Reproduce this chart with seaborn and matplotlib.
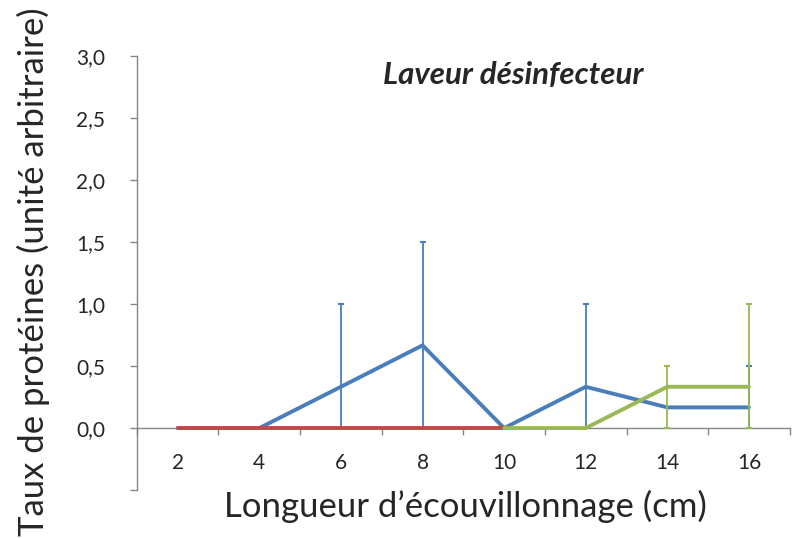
import matplotlib
matplotlib.use('Agg')
from matplotlib import pyplot as plt
from matplotlib.ticker import FixedLocator, FuncFormatter
import numpy as np
import seaborn as sns

sns.set_style('white')
plt.rcParams['font.family'] = ['Lato', 'DejaVu Sans']

# Swab length categories (cm)
lengths = ['2', '4', '6', '8', '10', '12', '14', '16']

# Series values (arbitrary units); low/high are the error-bar ends
blue_vals = [0, 0, 0.333, 0.667, 0, 0.333, 0.167, 0.167]
blue_low = [0, 0, 0, 0, 0, 0, 0, 0]
blue_high = [0, 0, 1.0, 1.5, 0, 1.0, 0, 0.5]

red_vals = [0, 0, 0, 0, 0]  # categories 2..10

green_vals = [0, 0, 0.333, 0.333]  # categories 10..16
green_low = [0, 0, 0, 0]
green_high = [0, 0, 0.5, 1.0]

BLUE = '#4A7EBB'
RED = '#BE4B48'
GREEN = '#98B954'
GREY = '#868686'

fig = plt.figure(figsize=(8.1, 5.38), dpi=100)
ax = fig.add_axes([0.169, 0.089, 0.806, 0.807])

pos = np.arange(len(lengths))
red_pos = pos[:len(red_vals)]
green_pos = pos[len(lengths) - len(green_vals):]


# Error bars from low to high, only where there is a spread
def error_bars(x, vals, low, high, color, z):
  vals, low, high = np.array(vals), np.array(low), np.array(high)
  keep = high > low
  ax.errorbar(x[keep], vals[keep], yerr=[vals[keep] - low[keep], high[keep] - vals[keep]],
              fmt='none', ecolor=color, elinewidth=1.3, capsize=2.5, capthick=1.5, zorder=z)


error_bars(pos, blue_vals, blue_low, blue_high, BLUE, 3)
sns.lineplot(x=pos, y=blue_vals, color=BLUE, linewidth=2.8, ax=ax, zorder=4)
sns.lineplot(x=red_pos, y=red_vals, color=RED, linewidth=2.8, ax=ax, zorder=6)
error_bars(green_pos, green_vals, green_low, green_high, GREEN, 5)
sns.lineplot(x=green_pos, y=green_vals, color=GREEN, linewidth=2.8, ax=ax, zorder=7)

ax.set_xlim(-0.5, len(lengths) - 0.5)
ax.set_ylim(-0.5, 3.0)

# spines: x axis crosses at y = 0
for side in ['top', 'right']:
  ax.spines[side].set_visible(False)
for side in ['left', 'bottom']:
  ax.spines[side].set_color(GREY)
  ax.spines[side].set_linewidth(1.0)
  ax.spines[side].set_zorder(2)
ax.spines['bottom'].set_position(('data', 0))

ax.set_yticks(np.arange(-0.5, 3.01, 0.5))
ax.yaxis.set_major_formatter(FuncFormatter(
  lambda v, p: '' if v < 0 else f'{v:.1f}'.replace('.', ',')))
ax.tick_params(axis='y', direction='out', length=5, width=1, color=GREY,
               labelsize=15, pad=18, left=True)

ax.set_xticks(pos)
ax.set_xticklabels(lengths)
ax.xaxis.set_minor_locator(FixedLocator(np.arange(-0.5, len(lengths), 1.0)))
ax.tick_params(axis='x', which='major', length=0, labelsize=15, pad=18)
ax.tick_params(axis='x', which='minor', direction='out', length=5, width=1,
               color=GREY, bottom=True)

ax.set_xlabel('Longueur d\u2019écouvillonnage (cm)', fontsize=25)
ax.set_ylabel('Taux de protéines (unité arbitraire)', fontsize=25)
ax.xaxis.set_label_coords(0.504, 0.0)
ax.yaxis.set_label_coords(-0.133, 0.502)
ax.text(0.577, 0.957, 'Laveur désinfecteur', transform=ax.transAxes,
        ha='center', va='center', fontsize=22.5, fontweight='bold', style='italic')

fig.savefig('out.png', dpi=100)
plt.close(fig)
